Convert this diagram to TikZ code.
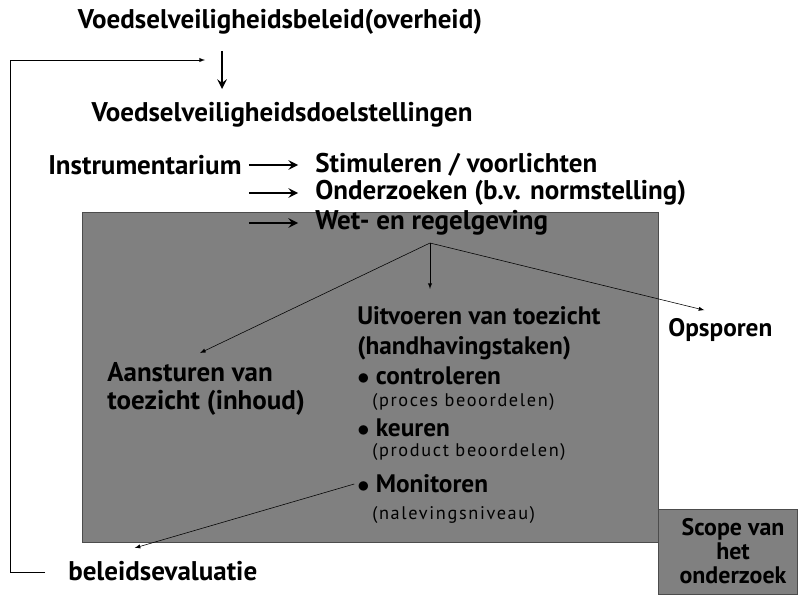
\documentclass[tikz,border=0pt]{standalone}
\usepackage{fontspec}
\setmainfont{PT Sans}
\usetikzlibrary{positioning}
\definecolor{vlak}{RGB}{128,128,128}
\begin{document}
\begin{tikzpicture}[
x=0.025cm,y=-0.025cm,
every node/.style={inner sep=0pt,font=\bfseries\fontsize{19.2}{22}\selectfont},
midden/.style={font=\bfseries\fontsize{18}{21.5}\selectfont},
klein/.style={font=\fontsize{13}{15}\selectfont\addfontfeatures{LetterSpace=9}},
lijst/.style={anchor=west,align=left},
dik/.style={->,>=stealth,line width=2pt},
dun/.style={->,>=latex,thin},
scopebox/.style={fill=vlak,draw=gray!60!black}
]
\useasboundingbox (0,0) rectangle (800,594);
\fill[vlak,draw=gray!60!black] (82,212) rectangle (658,542);
\filldraw[scopebox] (658,509) rectangle (797,594);

\node (beleid) at (280,22) {Voedselveiligheidsbeleid(overheid)};
\node (doel) at (282,115) {Voedselveiligheidsdoelstellingen};
\coordinate (terug) at (205,60);
\coordinate (pijl) at (222,89);

\node[lijst] (instr) at (48,165) {Instrumentarium};
\node[lijst] (stim) at (315,165) {Stimuleren / voorlichten};
\node[lijst] (onder) at (315,193) {Onderzoeken (b.v. normstelling)};
\node[lijst] (wet) at (315,223) {Wet- en regelgeving};

\node[lijst,midden] (uitv) at (357,333) {Uitvoeren van toezicht\\(handhavingstaken)};
\node[lijst,midden] (opsp) at (668,330) {Opsporen};
\node[lijst,font=\bfseries\fontsize{19.2}{19.5}\selectfont] (aanst) at (107,389) {Aansturen van\\toezicht (inhoud)};
\node[lijst,midden] (contr) at (357,376) {$\bullet$ controleren};
\node[lijst,klein] (proces) at (372,402) {(proces beoordelen)};
\node[lijst,midden] (keur) at (357,428) {$\bullet$ keuren};
\node[lijst,klein] (prod) at (372,452) {(product beoordelen)};
\node[lijst,midden] (monit) at (357,484) {$\bullet$ Monitoren};
\node[lijst,klein] (nalev) at (372,515) {(nalevingsniveau)};
\node[lijst] (eval) at (68,571) {beleidsevaluatie};
\node[align=center,font=\bfseries\fontsize{17}{17.2}\selectfont] (scope) at (733,551) {Scope van\\het\\onderzoek};

% bovenste deel
\draw[dik] (pijl |- beleid.south) ++(0,16) -- (pijl);
\draw[dik,shorten <=5pt,shorten >=12pt] (instr.east) -- (stim.west);
\draw[dik,shorten <=5pt,shorten >=12pt] (instr.east |- onder) -- (onder.west);
\draw[dik,shorten <=5pt,shorten >=12pt] (instr.east |- wet) -- (wet.west);

% binnen het vlak
\coordinate (wetpunt) at (430,243);
\draw[dun,shorten >=12pt] (wetpunt) -- (wetpunt |- uitv.north);
\draw[dun] (wetpunt) -- (200,353);
\draw[dun] (wetpunt) -- ([xshift=-16*0.025cm,yshift=8*0.025cm]opsp.north);
\draw[dun] ([xshift=-2pt]monit.west) -- ([xshift=-28*0.025cm,yshift=13*0.025cm]eval.north);

% terugkoppeling
\draw[dun] ([xshift=-23*0.025cm]eval.west |- 0,572) -| (10,60) -- (terug);
\end{tikzpicture}
\end{document}
